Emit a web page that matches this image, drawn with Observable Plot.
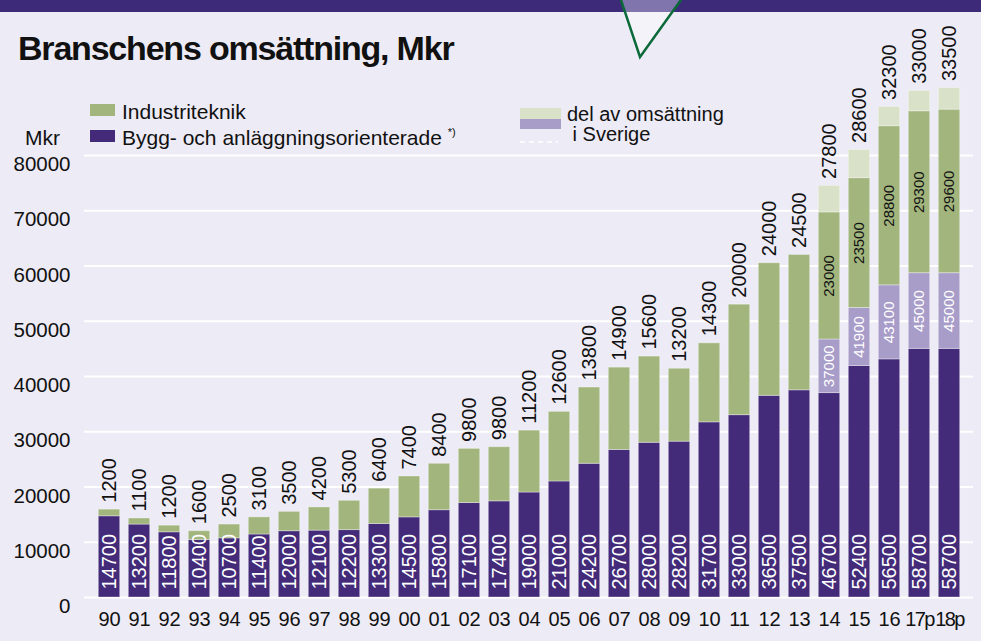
<!DOCTYPE html>
<html><head><meta charset="utf-8">
<script src="https://cdn.jsdelivr.net/npm/d3@7"></script>
<script src="https://cdn.jsdelivr.net/npm/@observablehq/plot@0.6"></script>
<style>
body{margin:0;background:#edebf5;font-family:"Liberation Sans",Arial,sans-serif;color:#111}
#wrap{position:relative;width:981px;height:641px;overflow:hidden;background:#edebf5}
#chart{position:absolute;left:0;top:0}
.abs{position:absolute;white-space:nowrap;line-height:1}
</style></head><body>
<div id="wrap">
  <div class="abs" style="left:0;top:0;width:981px;height:12px;background:#3d2a78"></div>
  <svg class="abs" style="left:0;top:0" width="981" height="70">
    <defs><clipPath id="band"><rect x="0" y="0" width="981" height="12"/></clipPath></defs>
    <polygon points="621,-2 682,-2 640,58" fill="#f4f3fa"/>
    <polygon points="621,-2 682,-2 640,58" fill="#8175ae" clip-path="url(#band)"/>
    <polyline points="620,-3 640,57 683,-3" fill="none" stroke="#0c6a3a" stroke-width="2.5"/>
  </svg>
  <div id="chart"></div>
  <div class="abs" style="left:18px;top:31px;font-size:34px;font-weight:bold;letter-spacing:-1.2px">Branschens omsättning, Mkr</div>
  <div class="abs" style="left:90px;top:104px;width:25px;height:12px;background:#a2b57d"></div>
  <div class="abs" style="left:122px;top:100.5px;font-size:21px">Industriteknik</div>
  <div class="abs" style="left:90px;top:130px;width:25px;height:12px;background:#432b79"></div>
  <div class="abs" style="left:122px;top:126.7px;font-size:21px">Bygg- och anläggningsorienterade <span style="font-size:11px;vertical-align:9px">*)</span></div>
  <div class="abs" style="left:25px;top:126.7px;font-size:21px">Mkr</div>
  <div class="abs" style="left:520px;top:108px;width:41px;height:10.5px;background:#d9e1c8"></div>
  <div class="abs" style="left:520px;top:118.5px;width:41px;height:10.5px;background:#a89cc9"></div>
  <div class="abs" style="left:567px;top:103.5px;font-size:20px">del av omsättning</div>
  <div class="abs" style="left:567px;top:124.3px;font-size:20px">&nbsp;i Sverige</div>
  <svg class="abs" style="left:520px;top:140px" width="40" height="4"><line x1="0" y1="2" x2="38" y2="2" stroke="white" stroke-width="1.5" stroke-dasharray="5,4"/></svg>
</div>
<script>
const years = ["90","91","92","93","94","95","96","97","98","99","00","01","02","03","04","05","06","07","08","09","10","11","12","13","14","15","16","17p","18p"];
const bygg = [14700,13200,11800,10400,10700,11400,12000,12100,12200,13300,14500,15800,17100,17400,19000,21000,24200,26700,28000,28200,31700,33000,36500,37500,46700,52400,56500,58700,58700];
const industri = [1200,1100,1200,1600,2500,3100,3500,4200,5300,6400,7400,8400,9800,9800,11200,12600,13800,14900,15600,13200,14300,20000,24000,24500,27800,28600,32300,33000,33500];
const byggSverige = [null,null,null,null,null,null,null,null,null,null,null,null,null,null,null,null,null,null,null,null,null,null,null,null,37000,41900,43100,45000,45000];
const industriSverige = [null,null,null,null,null,null,null,null,null,null,null,null,null,null,null,null,null,null,null,null,null,null,null,null,23000,23500,28800,29300,29600];
const yTicks = [0,10000,20000,30000,40000,50000,60000,70000,80000];

const rows = years.map((year, i) => ({
  year, bygg: bygg[i], industri: industri[i],
  bs: byggSverige[i], is: industriSverige[i], total: bygg[i] + industri[i]
}));
const swe = rows.filter(d => d.bs != null);

const barOpts = {x: "year", insetLeft: 4.3, insetRight: 4.3, stroke: "white", strokeOpacity: 0.35, strokeWidth: 1};

const chart = Plot.plot({
  width: 981, height: 641,
  marginLeft: 84, marginRight: 8, marginTop: 155, marginBottom: 44,
  style: {background: "transparent", fontFamily: "Liberation Sans, Arial, sans-serif", fontSize: "20px", color: "#111"},
  x: {type: "band", domain: years, padding: 0, label: null},
  y: {domain: [0, 80000], label: null},
  marks: [
    Plot.gridY(yTicks, {stroke: "white", strokeOpacity: 1, strokeWidth: 2}),
    Plot.barY(rows, {...barOpts, y1: 0, y2: d => d.bs ?? d.bygg, fill: "#432b79"}),
    Plot.barY(swe, {...barOpts, y1: "bs", y2: "bygg", fill: "#a89cc9"}),
    Plot.barY(rows, {...barOpts, y1: "bygg", y2: d => d.bygg + (d.is ?? d.industri), fill: "#a2b57d"}),
    Plot.barY(swe, {...barOpts, y1: d => d.bygg + d.is, y2: "total", fill: "#d9e1c8"}),
    Plot.axisY(yTicks, {tickSize: 0, tickPadding: 14, tickFormat: d => String(d), dy: 9, fill: "#111", fontSize: 20.5}),
    Plot.axisX({tickSize: 0, tickPadding: 14, fill: "#111", fontSize: 20, className: "xax"}),
    Plot.text(rows, {x: "year", y: 0, text: d => String(d.bygg), rotate: -90, textAnchor: "start", lineAnchor: "middle", dy: -8, fill: "white", fontSize: 20}),
    Plot.text(rows, {x: "year", y: "total", text: d => String(d.industri), rotate: -90, textAnchor: "start", lineAnchor: "middle", dy: -7, fill: "#111", fontSize: 20}),
    Plot.text(swe, {x: "year", y: d => (d.bs + d.bygg) / 2, text: d => String(d.bs), rotate: -90, textAnchor: "middle", lineAnchor: "middle", fill: "white", fontSize: 15}),
    Plot.text(swe, {x: "year", y: d => d.bygg + d.is / 2, text: d => String(d.is), rotate: -90, textAnchor: "middle", lineAnchor: "middle", fill: "#111", fontSize: 15})
  ]
});
// tighten the two long year labels so they sit side by side as in the original
chart.querySelectorAll("text").forEach(t => {
  if (t.textContent === "17p" || t.textContent === "18p") t.style.letterSpacing = "-1.6px";
});
document.getElementById("chart").appendChild(chart);
</script>
</body></html>
